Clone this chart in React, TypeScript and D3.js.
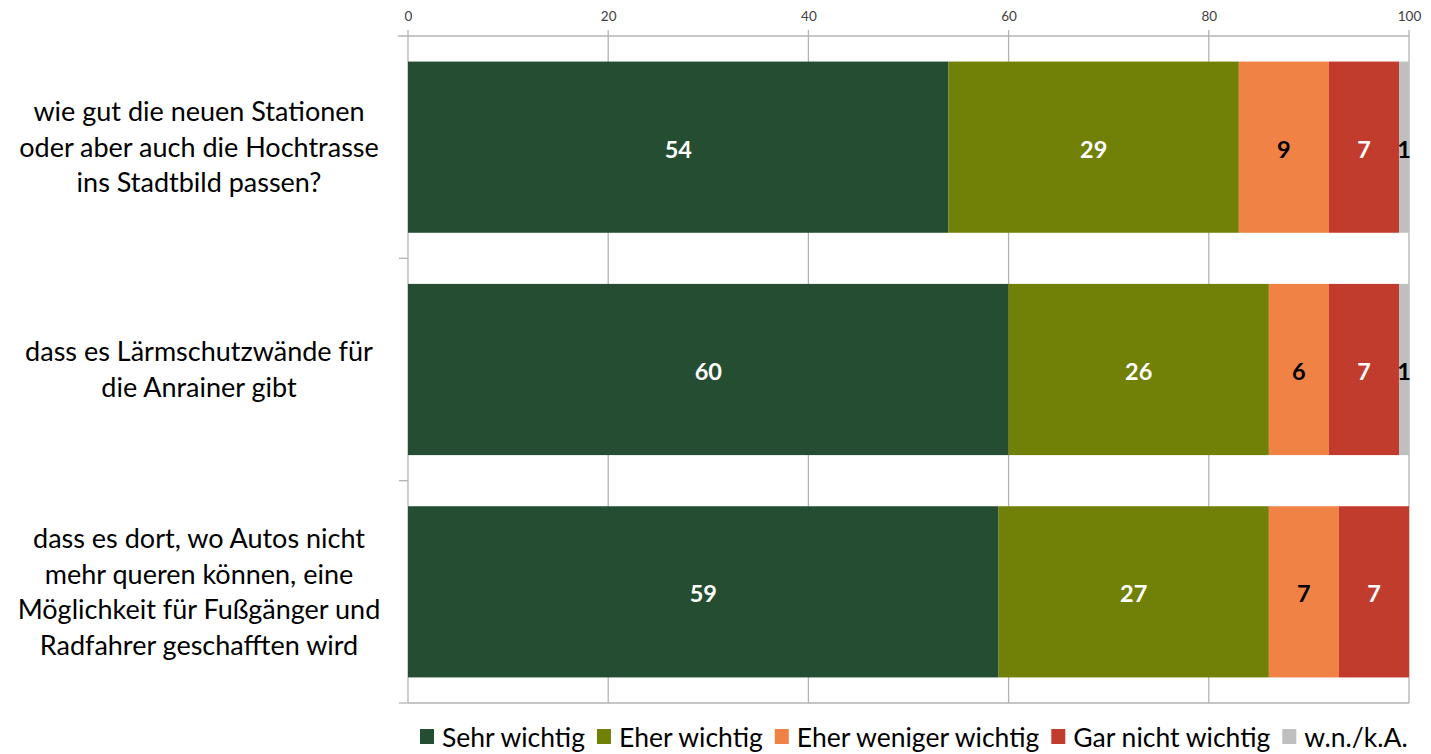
import React, { useEffect, useRef } from 'react'
import * as d3 from 'd3'

// survey items (y axis), one line per array entry
const questions: string[][] = [
    ['wie gut die neuen Stationen', 'oder aber auch die Hochtrasse', 'ins Stadtbild passen?'],
    ['dass es Lärmschutzwände für', 'die Anrainer gibt'],
    ['dass es dort, wo Autos nicht', 'mehr queren können, eine', 'Möglichkeit für Fußgänger und', 'Radfahrer geschafften wird']
]
const answers = ['Sehr wichtig', 'Eher wichtig', 'Eher weniger wichtig', 'Gar nicht wichtig', 'w.n./k.A.']
const sehrWichtig = [54, 60, 59]
const eherWichtig = [29, 26, 27]
const eherWeniger = [9, 6, 7]
const garNicht = [7, 7, 7]
const wnka = [1, 1, 0]
const xTicks = [0, 20, 40, 60, 80, 100]

const colors = ['#254d32', '#718007', '#ef8244', '#c23c2e', '#bfbfbf']
const labelColors = ['#ffffff', '#ffffff', '#000000', '#ffffff', '#000000']

const W = 1431
const H = 754
const margin = { top: 36, right: 22, bottom: 51, left: 408 }
const FONT = 'Lato, "Open Sans", sans-serif'

const App: React.FC = () => {
    const ref = useRef<SVGSVGElement>(null)

    useEffect(() => {
        const svg = d3.select(ref.current)
        svg.selectAll('*').remove()

        const series = [sehrWichtig, eherWichtig, eherWeniger, garNicht, wnka]
        const rows = questions.map((q, i) => {
            const row: any = { idx: i }
            answers.forEach((a, j) => (row[a] = series[j][i]))
            return row
        })
        const stacked = d3.stack<any>().keys(answers)(rows)

        const x = d3
            .scaleLinear()
            .domain([0, 100])
            .range([margin.left, W - margin.right])
        const y = d3
            .scaleBand<number>()
            .domain(questions.map((_, i) => i))
            .range([margin.top, H - margin.bottom])
            .paddingInner(0.23)
            .paddingOuter(0.115)

        const grid = svg.append('g')
        grid.selectAll('line')
            .data(xTicks)
            .join('line')
            .attr('x1', (d) => x(d))
            .attr('x2', (d) => x(d))
            .attr('y1', margin.top - 6)
            .attr('y2', H - margin.bottom)
            .attr('stroke', '#b3b3b3')
            .attr('stroke-width', 1.3)
        grid.append('line')
            .attr('x1', x(0))
            .attr('x2', x(100))
            .attr('y1', H - margin.bottom)
            .attr('y2', H - margin.bottom)
            .attr('stroke', '#b3b3b3')
            .attr('stroke-width', 1.3)

        // top axis
        const xAxis = svg
            .append('g')
            .attr('transform', `translate(0, ${margin.top})`)
            .call(d3.axisTop(x).tickValues(xTicks).tickSize(0).tickPadding(15))
        xAxis.select('.domain')
            .attr('stroke', '#b3b3b3')
            .attr('stroke-width', 1.3)
            .attr('d', `M${x(0) - 10},0H${x(100)}`)
        xAxis.selectAll('text')
            .attr('font-family', FONT)
            .attr('font-size', 13.5)
            .attr('fill', '#404040')

        // left axis ticks between categories
        const yTicks = d3.range(questions.length + 1).map((i) => margin.top + (H - margin.bottom - margin.top) * (i / questions.length))
        svg.append('g')
            .selectAll('line')
            .data(yTicks.slice(1))
            .join('line')
            .attr('x1', x(0) - 9)
            .attr('x2', x(0))
            .attr('y1', (d) => d)
            .attr('y2', (d) => d)
            .attr('stroke', '#b3b3b3')
            .attr('stroke-width', 1.3)

        // bars
        const layers = svg
            .append('g')
            .selectAll('g')
            .data(stacked)
            .join('g')
            .attr('fill', (_, i) => colors[i])
        layers
            .selectAll('rect')
            .data((d) => d)
            .join('rect')
            .attr('x', (d) => x(d[0]))
            .attr('width', (d) => x(d[1]) - x(d[0]))
            .attr('y', (d) => y(d.data.idx) as number)
            .attr('height', y.bandwidth())

        // value labels
        stacked.forEach((layer, li) => {
            svg.append('g')
                .selectAll('text')
                .data(layer.filter((d) => d[1] - d[0] > 0))
                .join('text')
                .attr('x', (d) => (li === 4 ? x(d[0]) + 5 : (x(d[0]) + x(d[1])) / 2))
                .attr('y', (d) => (y(d.data.idx) as number) + y.bandwidth() / 2 + 2)
                .attr('dy', '0.36em')
                .attr('text-anchor', 'middle')
                .attr('font-family', FONT)
                .attr('font-weight', 'bold')
                .attr('font-size', 23.5)
                .attr('fill', labelColors[li])
                .text((d) => d[1] - d[0])
        })

        // category labels
        const cats = svg.append('g')
        questions.forEach((lines, i) => {
            const cy = (y(i) as number) + y.bandwidth() / 2
            const lh = 35.5
            cats.append('text')
                .attr('text-anchor', 'middle')
                .attr('font-family', FONT)
                .attr('font-size', 27)
                .attr('fill', '#000000')
                .selectAll('tspan')
                .data(lines)
                .join('tspan')
                .attr('x', 199)
                .attr('y', (_, k) => cy + (k - (lines.length - 1) / 2) * lh)
                .attr('dy', '0.36em')
                .text((d) => d)
        })

        // legend
        const legend = svg.append('g').attr('transform', `translate(0, ${H - 7})`)
        let lx = 420
        answers.forEach((a, i) => {
            const g = legend.append('g').attr('transform', `translate(${lx}, 0)`)
            g.append('rect')
                .attr('x', 0)
                .attr('y', -18)
                .attr('width', 14)
                .attr('height', 15)
                .attr('fill', colors[i])
            const t = g
                .append('text')
                .attr('x', 22)
                .attr('y', 0)
                .attr('font-family', FONT)
                .attr('font-size', 26.5)
                .attr('fill', '#000000')
                .text(a)
            const w = (t.node() as SVGTextElement).getComputedTextLength()
            lx += 22 + w + 12
        })
    }, [])

    return (
        <div style={{ width: W, height: H }}>
            <svg ref={ref} width={W} height={H} viewBox={`0 0 ${W} ${H}`} style={{ display: 'block', position: 'absolute', left: 0, top: 0 }} />
        </div>
    )
}

export default App
